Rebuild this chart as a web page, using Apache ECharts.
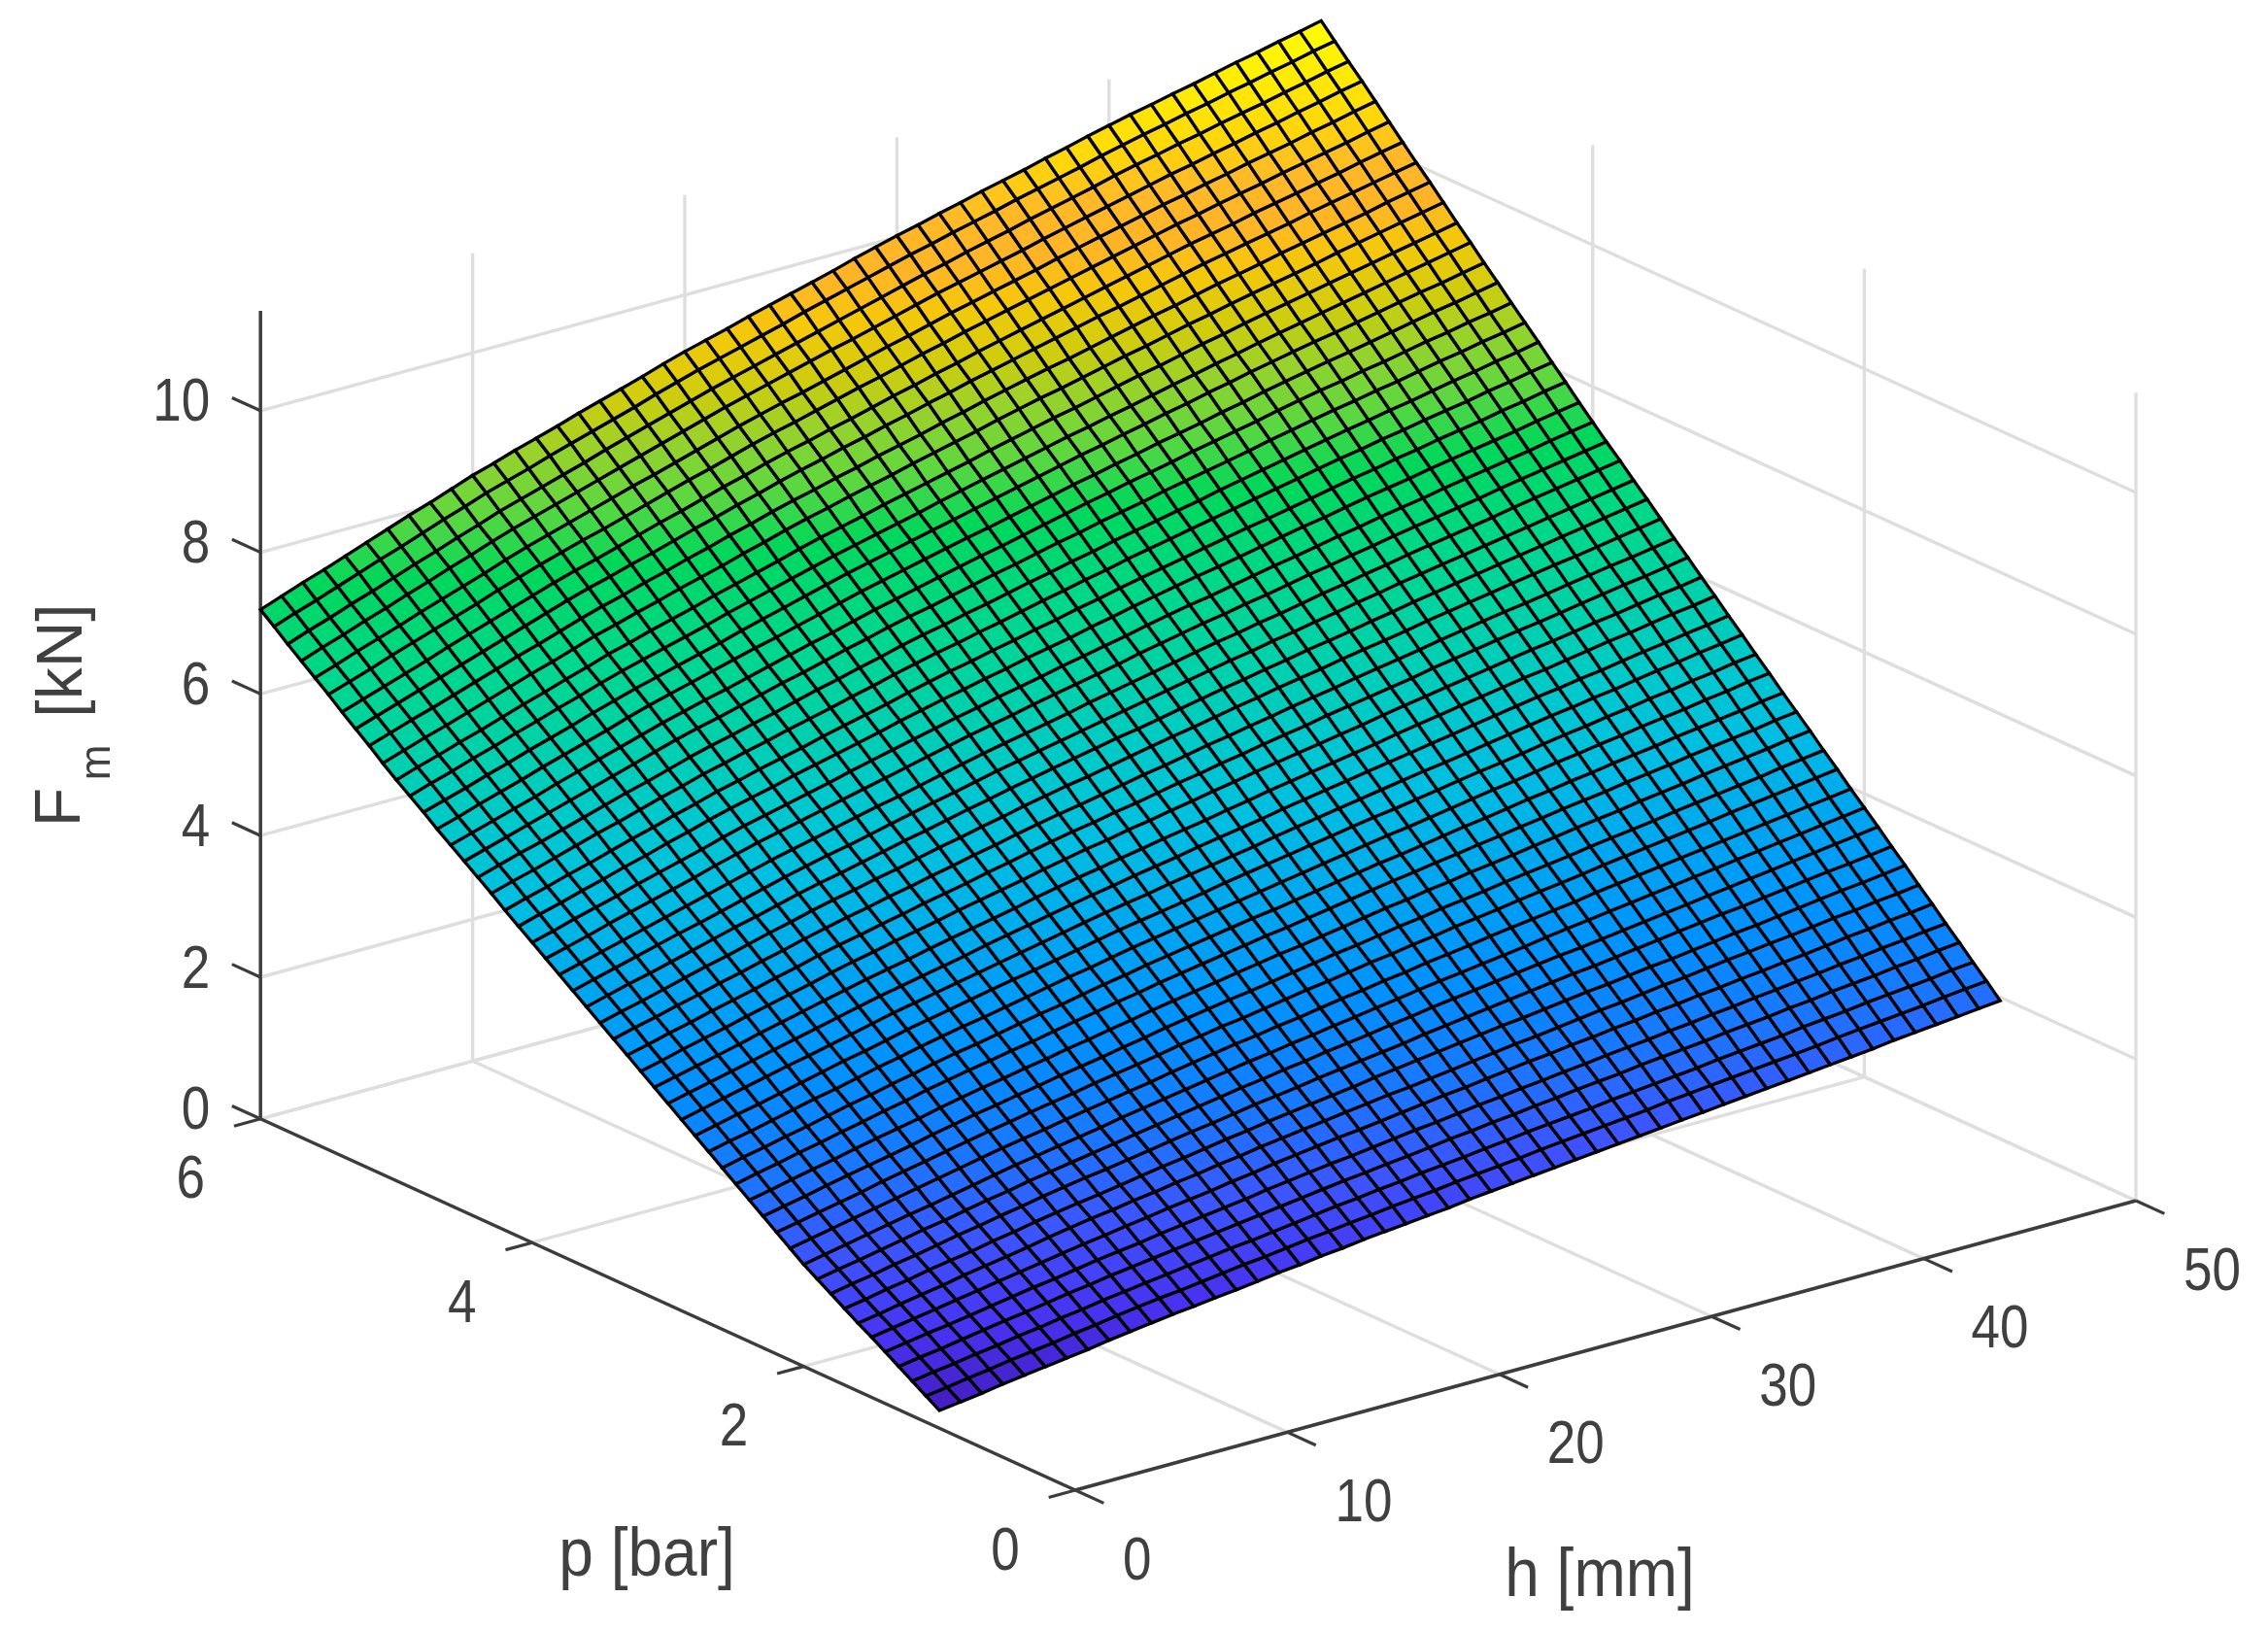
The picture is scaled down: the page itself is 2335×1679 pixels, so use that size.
<!DOCTYPE html><html><head><meta charset="utf-8"><style>html,body{margin:0;background:#fff}#c{width:2335px;height:1679px;filter:blur(.7px)}</style>
<script src="https://cdn.jsdelivr.net/npm/echarts@6/dist/echarts.min.js"></script></head><body><div id="c"></div><script>
const hValues=[0,1,2,3,4,5,6,7,8,9,10,11,12,13,14,15,16,17,18,19,20,21,22,23,24,25,26,27,28,29,30,31,32,33,34,35,36,37,38,39,40,41,42,43,44,45,46,47,48,49,50];
const pValues=[1,1.1,1.2,1.3,1.4,1.5,1.6,1.7,1.8,1.9,2,2.1,2.2,2.3,2.4,2.5,2.6,2.7,2.8,2.9,3,3.1,3.2,3.3,3.4,3.5,3.6,3.7,3.8,3.9,4,4.1,4.2,4.3,4.4,4.5,4.6,4.7,4.8,4.9,5,5.1,5.2,5.3,5.4,5.5,5.6,5.7,5.8,5.9,6];
// Fm in 0.01 kN, one row per p, one column per h. Estimated by eye: about 30 points were read
// off the surface's edges, and the remaining mesh nodes are hand estimates that follow them.
const zCenti=[
[25,29,33,38,42,46,50,54,59,63,67,71,74,78,81,85,89,92,96,99,103,106,109,112,115,119,122,125,128,131,134,137,140,143,146,149,152,155,158,161,164,167,170,173,176,180,183,186,189,192,195],
[37,41,46,50,55,59,63,68,72,77,81,85,88,92,96,100,103,107,111,114,118,121,125,128,131,135,138,141,144,148,151,154,157,160,163,167,170,173,176,179,182,185,188,192,195,198,201,204,208,211,214],
[49,54,58,63,67,72,76,81,85,90,94,98,102,106,110,114,117,121,125,129,133,136,140,143,147,150,153,157,160,164,167,170,173,177,180,183,186,189,193,196,199,202,206,209,212,216,219,222,225,229,232],
[61,66,70,75,80,85,89,94,99,103,108,112,116,120,124,128,132,136,140,144,148,152,155,159,162,166,170,173,177,180,184,187,191,194,197,201,204,207,210,214,217,220,224,227,231,234,237,241,244,248,251],
[73,78,83,87,92,97,102,107,111,116,121,125,129,134,138,142,146,150,155,159,163,167,170,174,178,182,185,189,193,196,200,203,207,210,214,217,220,224,227,231,234,238,241,245,248,252,255,259,262,266,269],
[85,90,95,100,105,110,115,120,125,130,135,139,144,148,153,157,161,166,170,175,179,183,187,190,194,198,202,206,209,213,217,221,224,228,231,235,238,242,245,249,252,256,259,263,266,270,274,277,281,284,288],
[96,101,107,112,117,123,128,133,138,144,149,154,158,163,167,172,176,181,185,190,194,198,202,206,210,214,217,221,225,229,233,237,240,244,248,252,255,259,263,266,270,274,277,281,284,288,292,295,299,302,306],
[108,113,119,124,130,135,140,146,151,157,162,167,171,176,181,186,190,195,200,204,209,213,217,221,225,230,234,238,242,246,250,254,257,261,265,269,272,276,280,283,287,291,295,298,302,306,310,314,317,321,325],
[120,126,131,137,142,148,154,159,165,170,176,181,186,190,195,200,205,210,214,219,224,228,232,237,241,245,249,253,258,262,266,270,274,278,282,286,289,293,297,301,305,309,313,316,320,324,328,332,335,339,343],
[132,138,143,149,155,161,166,172,178,183,189,194,199,204,209,214,219,224,229,234,239,243,248,252,257,261,265,270,274,279,283,287,291,295,299,303,306,310,314,318,322,326,330,334,338,342,346,350,354,358,362],
[144,150,156,162,168,174,179,185,191,197,203,208,213,218,223,229,234,239,244,249,254,259,263,268,272,277,281,286,290,295,299,303,307,311,315,320,324,328,332,336,340,344,348,352,356,360,364,368,372,376,380],
[158,164,170,176,182,188,194,200,206,212,218,223,228,234,239,244,249,254,260,265,270,275,279,284,288,293,298,302,307,311,316,320,324,329,333,337,341,345,350,354,358,362,366,370,374,378,382,386,390,394,398],
[172,178,184,190,196,203,209,215,221,227,233,238,244,249,254,260,265,270,275,281,286,291,295,300,305,310,314,319,324,328,333,337,342,346,350,355,359,363,367,372,376,380,384,388,392,397,401,405,409,413,417],
[186,192,198,205,211,217,223,229,236,242,248,253,259,264,270,275,280,286,291,297,302,307,312,316,321,326,331,336,340,345,350,354,359,363,367,372,376,380,384,389,393,397,401,406,410,414,418,422,427,431,435],
[200,206,213,219,225,232,238,244,250,257,263,269,274,280,285,291,296,302,307,313,318,323,328,333,338,343,347,352,357,362,367,371,376,380,385,389,393,398,402,407,411,415,420,424,428,433,437,441,445,450,454],
[214,221,227,234,240,247,253,260,266,273,279,285,290,296,301,307,313,318,324,329,335,340,345,350,355,360,364,369,374,379,384,389,393,398,402,407,411,416,420,425,429,433,438,442,446,451,455,459,463,468,472],
[228,235,241,248,254,261,268,274,281,287,294,300,305,311,317,323,328,334,340,345,351,356,361,366,371,376,380,385,390,395,400,405,409,414,419,424,428,433,438,442,447,451,456,460,464,469,473,477,481,486,490],
[242,249,255,262,269,276,282,289,296,302,309,315,321,326,332,338,344,350,355,361,367,372,377,382,387,392,397,402,407,412,417,422,427,431,436,441,446,451,455,460,465,469,474,478,483,487,491,496,500,505,509],
[256,263,270,276,283,290,297,304,310,317,324,330,336,342,348,354,359,365,371,377,383,388,393,398,403,409,414,419,424,429,434,439,444,448,453,458,463,468,472,477,482,487,491,496,500,505,509,514,518,523,527],
[270,277,284,291,298,305,311,318,325,332,339,345,351,357,363,369,375,381,387,393,399,404,409,415,420,425,430,435,441,446,451,456,461,466,471,476,480,485,490,495,500,505,509,514,518,523,528,532,537,541,546],
[284,291,298,305,312,319,326,333,340,347,354,360,366,372,378,385,391,397,403,409,415,420,426,431,436,442,447,452,457,463,468,473,478,483,488,493,498,503,508,513,518,523,527,532,536,541,546,550,555,559,564],
[298,305,312,319,326,334,341,348,355,362,369,375,381,388,394,400,406,412,419,425,431,436,442,447,453,458,463,469,474,480,485,490,495,500,505,511,516,521,526,531,536,541,545,550,555,560,564,569,574,578,583],
[312,319,327,334,341,349,356,363,370,378,385,391,398,404,410,417,423,429,435,442,448,454,459,465,470,476,481,487,492,498,503,508,513,518,523,529,534,539,544,549,554,559,564,568,573,578,582,587,592,596,601],
[326,333,341,348,356,363,370,378,385,393,400,406,413,419,426,432,438,445,451,458,464,470,475,481,486,492,498,503,509,514,520,525,530,536,541,546,551,556,562,567,572,577,582,586,591,596,601,606,610,615,620],
[340,348,355,363,370,378,385,393,400,408,415,422,428,435,441,448,454,461,467,474,480,486,491,497,503,509,514,520,526,531,537,542,548,553,558,564,569,574,579,585,590,595,600,604,609,614,619,624,628,633,638],
[354,362,369,377,385,393,400,408,416,423,431,438,444,451,457,464,471,477,484,490,497,503,509,514,520,526,532,538,543,549,555,560,566,571,576,582,587,592,597,603,608,613,618,623,628,633,637,642,647,652,657],
[368,376,384,391,399,407,415,423,430,438,446,453,459,466,473,480,486,493,500,506,513,519,525,531,537,543,548,554,560,566,572,577,583,588,594,599,604,610,615,621,626,631,636,641,646,651,656,661,666,671,676],
[382,390,398,406,414,422,429,437,445,453,461,468,475,481,488,495,502,509,515,522,529,535,541,547,553,559,565,571,577,583,589,595,600,606,611,617,622,628,633,639,644,649,654,659,664,669,674,679,684,689,694],
[396,404,412,420,428,436,444,452,460,468,476,483,490,497,504,511,517,524,531,538,545,551,557,563,569,576,582,588,594,600,606,612,617,623,628,634,640,645,651,656,662,667,672,677,682,688,693,698,703,708,713],
[410,418,426,435,443,451,459,467,476,484,492,499,506,513,520,527,534,541,548,555,562,568,574,581,587,593,599,605,612,618,624,630,635,641,646,652,658,663,669,674,680,685,690,695,700,706,711,716,721,726,731],
[424,432,441,449,457,466,474,482,490,499,507,514,521,528,535,543,550,557,564,571,578,584,591,597,603,610,616,622,628,635,641,647,652,658,664,670,675,681,687,692,698,703,708,714,719,724,729,734,740,745,750],
[438,447,455,464,472,481,489,498,506,515,523,530,537,545,552,559,566,573,581,588,595,601,608,614,621,627,633,640,646,653,659,665,671,676,682,688,694,700,705,711,717,722,727,733,738,743,748,753,759,764,769],
[452,461,469,478,486,495,504,512,521,529,538,545,553,560,567,575,582,589,596,604,611,618,624,631,637,644,650,657,663,670,676,682,688,694,700,706,711,717,723,729,735,740,746,751,757,762,767,773,778,784,789],
[467,476,484,493,502,511,519,528,537,545,554,561,569,576,584,591,598,606,613,621,628,635,641,648,654,661,668,674,681,687,694,700,706,712,718,724,730,736,742,748,754,759,765,770,776,781,786,792,797,803,808],
[481,490,499,507,516,525,534,543,551,560,569,577,584,592,599,607,615,622,630,637,645,652,658,665,671,678,685,691,698,704,711,717,723,729,735,742,748,754,760,766,772,778,783,789,794,800,806,811,817,822,828],
[495,504,513,522,531,540,549,558,567,576,585,593,600,608,616,624,631,639,647,654,662,669,675,682,689,696,702,709,716,722,729,735,741,748,754,760,766,772,779,785,791,797,802,808,813,819,825,830,836,841,847],
[509,518,527,536,545,555,564,573,582,591,600,608,616,623,631,639,647,655,662,670,678,685,692,699,706,713,719,726,733,740,747,753,760,766,772,779,785,791,797,804,810,816,821,827,832,838,844,849,855,860,866],
[523,532,542,551,560,570,579,588,597,607,616,624,632,640,648,656,663,671,679,687,695,702,709,716,723,730,736,743,750,757,764,770,777,783,790,796,802,809,815,822,828,834,840,845,851,857,863,869,874,880,886],
[538,547,556,566,575,585,594,603,613,622,631,639,647,655,663,672,680,688,696,704,712,719,726,733,740,747,754,761,768,775,782,789,795,802,808,815,821,828,834,841,847,853,859,864,870,876,882,888,893,899,905],
[552,562,571,581,590,600,609,619,628,638,647,655,663,671,679,688,696,704,712,720,728,735,742,749,756,764,771,778,785,792,799,806,812,819,825,832,839,845,852,858,865,871,877,883,889,895,901,907,913,919,925],
[566,576,585,595,604,614,624,633,643,652,662,670,679,687,695,704,712,720,728,737,745,752,759,767,774,781,788,795,803,810,817,824,830,837,844,851,857,864,871,877,884,890,896,902,908,914,920,926,932,938,944],
[581,591,601,610,620,630,640,650,659,669,679,687,696,704,713,721,729,738,746,755,763,770,778,785,792,800,807,814,821,829,836,843,849,856,863,870,876,883,890,896,903,909,915,921,927,934,940,946,952,958,964],
[597,607,617,626,636,646,656,666,675,685,695,704,712,721,729,738,746,755,763,772,780,787,795,802,810,817,824,832,839,847,854,861,868,874,881,888,895,902,908,915,922,928,934,941,947,953,959,965,972,978,984],
[612,622,632,642,652,662,672,682,692,702,712,721,729,738,746,755,764,772,781,789,798,806,813,821,828,836,843,851,858,866,873,880,887,894,901,908,914,921,928,935,942,948,954,960,966,973,979,985,991,997,1003],
[627,637,647,657,667,678,688,698,708,718,728,737,745,754,763,772,780,789,798,806,815,823,830,838,845,853,861,868,876,883,891,898,905,912,919,926,933,940,947,954,961,967,973,980,986,992,998,1004,1011,1017,1023],
[643,653,663,674,684,694,704,714,725,735,745,754,763,771,780,789,798,807,815,824,833,841,848,856,864,872,879,887,895,902,910,917,924,931,938,945,952,959,966,973,980,986,993,999,1005,1012,1018,1024,1030,1037,1043],
[658,668,679,689,699,710,720,730,740,751,761,770,779,788,797,806,814,823,832,841,850,858,866,873,881,889,897,905,912,920,928,935,942,949,956,964,971,978,985,992,999,1005,1012,1018,1025,1031,1037,1044,1050,1057,1063],
[673,684,694,705,715,726,736,747,757,768,778,787,796,805,814,823,832,841,850,859,868,876,884,892,900,908,915,923,931,939,947,954,961,968,975,983,990,997,1004,1011,1018,1025,1031,1038,1044,1051,1057,1064,1070,1077,1083],
[688,699,709,720,730,741,752,762,773,783,794,803,812,821,830,840,849,858,867,876,885,893,901,909,917,925,933,941,949,957,965,972,980,987,994,1002,1009,1016,1023,1031,1038,1044,1051,1057,1064,1070,1076,1083,1089,1096,1102],
[704,715,725,736,747,758,768,779,790,800,811,820,829,839,848,857,866,875,885,894,903,911,919,927,935,944,952,960,968,976,984,991,999,1006,1013,1021,1028,1035,1042,1050,1057,1064,1070,1077,1083,1090,1096,1103,1109,1116,1122],
[719,730,741,751,762,773,784,795,805,816,827,836,846,855,864,874,883,892,901,911,920,928,936,945,953,961,969,977,986,994,1002,1009,1017,1024,1032,1039,1046,1054,1061,1069,1076,1083,1089,1096,1102,1109,1116,1122,1129,1135,1142]];
const hTicks=[0,10,20,30,40,50];
const pTicks=[0,2,4,6];
const zTicks=[0,2,4,6,8,10];
const zTop=11.41;
const colorZ=[0.25,0.8,1.5,2.2,3.0,3.8,4.6,5.2,6.0,6.6,7.4,7.9,8.4,8.8,9.3,9.7,10.1,10.5,11.4];
const colorRGB=[[68,28,190],[72,50,240],[60,85,255],[25,120,255],[0,145,255],[0,165,240],[0,190,225],[0,200,205],[0,210,165],[0,215,140],[0,215,90],[90,215,65],[150,210,45],[205,205,15],[245,200,10],[255,180,40],[255,185,40],[255,215,10],[255,255,0]];
function colorOf(z){let i=0;while(i<colorZ.length-2&&z>colorZ[i+1])i++;const t=Math.max(0,Math.min(1,(z-colorZ[i])/(colorZ[i+1]-colorZ[i])));const a=colorRGB[i],b=colorRGB[i+1];return `rgb(${a.map((v,k)=>Math.round(v+(b[k]-v)*t)).join(',')})`;}
function proj(h,p,z){return [1107+21.84*h-139.8*p,1534-5.96*h-63.7*p-72.9*z];}
const cells=[];
for(let r=0;r<pValues.length-1;r++)for(let c=0;c<hValues.length-1;c++){const Z=zCenti;cells.push([hValues[c],pValues[r],hValues[c+1],pValues[r+1],Z[r][c]/100,Z[r][c+1]/100,Z[r+1][c+1]/100,Z[r+1][c]/100]);}
const GRID='#dedede',AXIS='#3c3c3c',TXT='#404040';
const lines=[];
function L(a,b,col,w){lines.push([a[0],a[1],a[2],b[0],b[1],b[2],col==GRID?0:1,w||3.4]);}
for(const h of hTicks){L([h,6,0],[h,6,zTop],GRID);L([h,0,0],[h,6,0],GRID);}
for(const p of pTicks){L([50,p,0],[50,p,zTop],GRID);L([0,p,0],[50,p,0],GRID);}
for(const z of zTicks){L([0,6,z],[50,6,z],GRID);L([50,6,z],[50,0,z],GRID);}
L([0,0,0],[50,0,0],AXIS);L([0,0,0],[0,6,0],AXIS);L([0,6,0],[0,6,zTop],AXIS);
for(const h of hTicks)L([h,0,0],[h-0,0-0.21,0],AXIS,3.2);
for(const p of pTicks)L([0,p,0],[-1.25,p,0],AXIS,3.2);
for(const z of zTicks)L([0,6,z],[0,6.21,z],AXIS,3.2);
const labels=[];
function T(text,a,dx,dy,align,fs,sy,rot){labels.push({text,a,dx,dy,align,fs,sy,rot});}
for(const h of hTicks)T(String(h),[h,0,0],49,74,'left',53,1.2,0);
for(const p of pTicks)T(String(p),[0,p,0],-72,64,'center',53,1.2,0);
for(const z of zTicks)T(String(z),[0,6,z],-52,-7,'right',53,1.2,0);
const pagePts=[[666,1603,'p [bar]','center',64,1.1,0],[1647,1624,'h [mm]','center',64,1.1,0],[66,680,'[kN]','center',66,1,Math.PI/2],[64,831,'F','center',66,1,Math.PI/2],[101,785,'m','center',44,1,Math.PI/2]];
const chart=echarts.init(document.getElementById('c'),null,{renderer:'canvas'});
chart.setOption({animation:false,backgroundColor:'#fff',
grid:{left:0,right:0,top:0,bottom:0},
xAxis:{type:'value',min:0,max:2335,show:false},
yAxis:{type:'value',min:0,max:1679,inverse:true,show:false},
series:[
{type:'custom',coordinateSystem:'cartesian2d',clip:false,silent:true,z:1,data:lines,progressive:0,
 renderItem(_,api){const a=api.coord(proj(api.value(0),api.value(1),api.value(2))),b=api.coord(proj(api.value(3),api.value(4),api.value(5)));const ax=api.value(6);
  return {type:'line',shape:{x1:a[0],y1:a[1],x2:b[0],y2:b[1]},z2:ax?5:1,style:{stroke:ax?AXIS:GRID,lineWidth:api.value(7)}};}},
{type:'custom',coordinateSystem:'cartesian2d',clip:false,silent:true,z:2,data:cells,progressive:0,
 renderItem(_,api){const h0=api.value(0),p0=api.value(1),h1=api.value(2),p1=api.value(3),a=api.value(4),b=api.value(5),c=api.value(6),d=api.value(7);
  const pts=[proj(h0,p0,a),proj(h1,p0,b),proj(h1,p1,c),proj(h0,p1,d)].map(q=>api.coord(q));
  return {type:'polygon',shape:{points:pts},style:{fill:colorOf((a+b+c+d)/4),stroke:'#000',lineWidth:3.3,lineJoin:'miter'}};}},
{type:'custom',coordinateSystem:'cartesian2d',clip:false,silent:true,z:3,data:labels.map((l,i)=>[i,0]),
 renderItem(_,api){const l=labels[api.value(0)];const q=proj(l.a[0],l.a[1],l.a[2]);const s=api.coord([q[0]+l.dx,q[1]+l.dy]);
  return {type:'text',x:s[0],y:s[1],scaleY:l.sy,style:{text:l.text,textAlign:l.align,textVerticalAlign:'middle',fontFamily:'Liberation Sans',fontSize:l.fs,fill:TXT}};}},
{type:'custom',coordinateSystem:'cartesian2d',clip:false,silent:true,z:3,data:pagePts.map(t=>[t[0],t[1]]),
 renderItem(params,api){const t=pagePts[params.dataIndex];const s=api.coord([api.value(0),api.value(1)]);
  return {type:'text',x:s[0],y:s[1],scaleY:t[5],rotation:t[6],style:{text:t[2],textAlign:t[3],textVerticalAlign:'middle',fontFamily:'Liberation Sans',fontSize:t[4],fill:TXT}};}}
]});
</script></body></html>
